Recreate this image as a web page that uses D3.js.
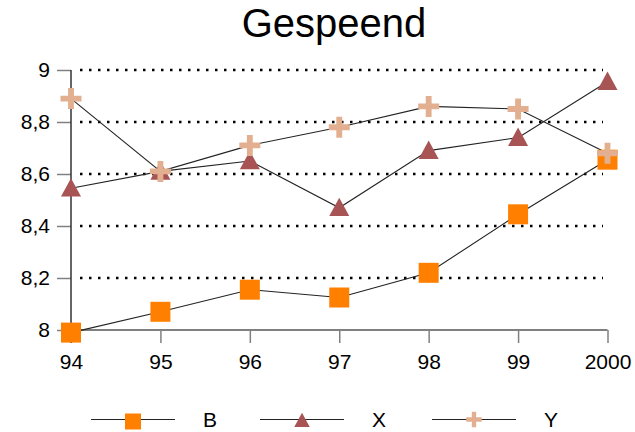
<!DOCTYPE html>
<html><head><meta charset="utf-8">
<script src="https://cdn.jsdelivr.net/npm/d3@7"></script>
<style>
html,body{margin:0;padding:0;background:#fff;}
svg{display:block;font-family:"Liberation Sans",Arial,sans-serif;}
</style></head>
<body><svg id="c" width="635" height="432"></svg>
<script>
const categories = ["94","95","96","97","98","99","2000"];
const seriesB = [7.99, 8.07, 8.155, 8.125, 8.22, 8.445, 8.655];
const seriesX = [8.545, 8.61, 8.65, 8.47, 8.69, 8.74, 8.955];
const seriesY = [8.89, 8.61, 8.71, 8.78, 8.86, 8.85, 8.68];
const yTicks = [8, 8.2, 8.4, 8.6, 8.8, 9];
const seriesNames = ["B", "X", "Y"];
const colors = {B:"#ff8000", X:"#a85454", Y:"#e2b090"};

const svg = d3.select("#c");
const x = d3.scalePoint().domain(categories).range([71, 607.5]);
const y = d3.scaleLinear().domain([8, 9]).range([330, 70]);
const fmt = v => d3.format(".1~f")(v).replace(".", ",");

// title
svg.append("text").attr("x", 334).attr("y", 37).attr("text-anchor", "middle")
  .attr("font-size", 40).attr("fill", "#000").text("Gespeend");

// gridlines
svg.append("g").selectAll("line").data(yTicks.filter(d => d > 8)).join("line")
  .attr("x1", 80).attr("x2", 603).attr("y1", d => y(d)).attr("y2", d => y(d))
  .attr("stroke", "#000").attr("stroke-width", 2.5).attr("stroke-dasharray", "2.5 6.5");

// y axis
const gy = svg.append("g").attr("transform", "translate(71,0)")
  .call(d3.axisLeft(y).tickValues(yTicks).tickSize(14).tickPadding(7).tickFormat(fmt));
gy.select(".domain").remove();
gy.selectAll(".tick line").attr("stroke", "#808080").attr("stroke-width", 1.5);
gy.selectAll(".tick text").attr("font-size", 21).attr("fill", "#000")
  .attr("font-family", "Liberation Sans, Arial, sans-serif");

// x axis
const gx = svg.append("g").attr("transform", "translate(0,330)")
  .call(d3.axisBottom(x).tickSize(13).tickPadding(11));
gx.select(".domain").attr("d", `M${x(categories[0])},0H${x(categories[6])}`)
  .attr("stroke", "#808080").attr("stroke-width", 2);
gx.selectAll(".tick line").attr("stroke", "#808080").attr("stroke-width", 1.5);
gx.selectAll(".tick text").attr("font-size", 21).attr("fill", "#000")
  .attr("font-family", "Liberation Sans, Arial, sans-serif");

// y axis line
svg.append("line").attr("x1", 71).attr("x2", 71).attr("y1", y(9)).attr("y2", 343)
  .attr("stroke", "#333").attr("stroke-width", 1.5);

const data = {B: seriesB, X: seriesX, Y: seriesY};
const line = d3.line().x((d, i) => x(categories[i])).y(d => y(d));

function marker(g, name, cx, cy, s) {
  if (name === "B") {
    g.append("rect").attr("x", cx - s/2).attr("y", cy - s/2).attr("width", s).attr("height", s)
      .attr("fill", colors.B);
  } else if (name === "X") {
    const h = s * 0.92;
    g.append("path").attr("d", `M${cx},${cy - h*0.55}L${cx + s/2},${cy + h*0.45}L${cx - s/2},${cy + h*0.45}Z`)
      .attr("fill", colors.X);
  } else {
    const t = s * 0.28;
    g.append("path").attr("d", `M${cx - s/2},${cy}H${cx + s/2}M${cx},${cy - s/2}V${cy + s/2}`)
      .attr("stroke", colors.Y).attr("stroke-width", t).attr("fill", "none");
  }
}

seriesNames.forEach(n => {
  svg.append("path").datum(data[n]).attr("d", line).attr("fill", "none")
    .attr("stroke", "#222").attr("stroke-width", 1.1);
});
seriesNames.forEach(n => {
  const g = svg.append("g");
  data[n].forEach((v, i) => marker(g, n, x(categories[i]), y(v), n === "B" ? 20 : (n === "X" ? 20 : 21)));
});

// legend
const legX = [91, 260, 432];
seriesNames.forEach((n, i) => {
  const g = svg.append("g");
  const x0 = legX[i], ly = 419.5;
  g.append("line").attr("x1", x0).attr("x2", x0 + 84).attr("y1", ly).attr("y2", ly)
    .attr("stroke", "#222").attr("stroke-width", 1.1);
  marker(g, n, x0 + 42, ly + (n === "B" ? 2 : (n === "X" ? 1 : 0)), n === "B" ? 16 : 15.5);
  g.append("text").attr("x", x0 + 112).attr("y", 426.5).attr("font-size", 21).attr("fill", "#000").text(n);
});
</script></body></html>
